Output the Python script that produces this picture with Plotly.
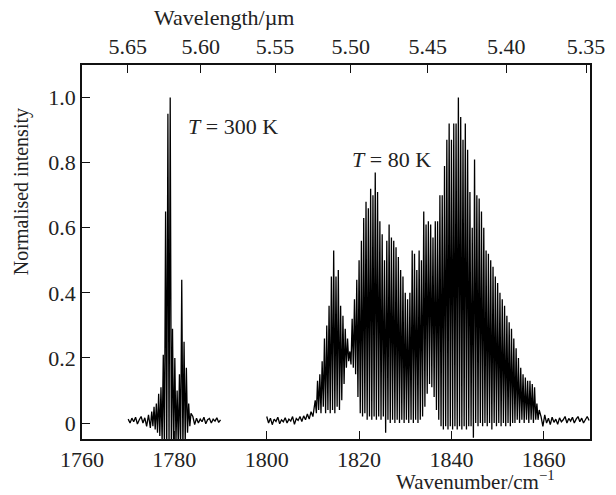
import plotly.graph_objects as go

# ---------------- data ----------------
# T = 300 K band
b300_pre_x = [1770.0, 1770.4, 1770.8, 1771.2, 1771.6, 1772.0, 1772.4, 1772.8, 1773.2, 1773.6, 1774.0, 1774.4, 1774.8]
b300_pre_y = [0.012, 0.0, 0.015, 0.004, 0.018, -0.003, 0.01, 0.02, 0.0, 0.016, -0.01, 0.025, -0.015]
b300_peak_x = [1775.1, 1775.6, 1776.1, 1776.6, 1777.1, 1777.6, 1778.1, 1778.6, 1779.1, 1779.6,
               1780.1, 1780.6, 1781.1, 1781.6, 1782.1, 1782.6, 1783.1, 1783.6]
b300_peak_y = [0.035, 0.05, 0.06, 0.09, 0.11, 0.21, 0.65, 0.95, 1.0, 0.29,
               0.20, 0.10, 0.15, 0.44, 0.25, 0.17, 0.06, 0.03]
b300_val_x = [1775.35, 1775.85, 1776.35, 1776.85, 1777.35, 1777.85, 1778.35, 1778.85, 1779.35,
              1779.85, 1780.35, 1780.85, 1781.35, 1781.85, 1782.35, 1782.85, 1783.35]
b300_val_y = [-0.01, -0.02, -0.03, -0.04, -0.06, -0.08, -0.08, -0.08, -0.08,
              -0.08, -0.06, -0.07, -0.08, -0.08, -0.06, -0.03, -0.01]
b300_post_x = [1784.0, 1784.4, 1784.8, 1785.2, 1785.6, 1786.0, 1786.4, 1786.8, 1787.2, 1787.6,
               1788.0, 1788.4, 1788.8, 1789.2, 1789.6, 1790.0]
b300_post_y = [0.02, -0.005, 0.015, 0.0, 0.012, 0.004, 0.018, -0.002, 0.01, 0.014,
               0.0, 0.012, 0.006, 0.016, 0.002, 0.01]

# T = 80 K band
b80_pre_x = [1800.0, 1800.4, 1800.8, 1801.2, 1801.6, 1802.0, 1802.4, 1802.8, 1803.2, 1803.6,
             1804.0, 1804.4, 1804.8, 1805.2, 1805.6, 1806.0, 1806.4, 1806.8, 1807.2, 1807.6,
             1808.0, 1808.4, 1808.8, 1809.2, 1809.6, 1810.0]
b80_pre_y = [0.02, 0.0, 0.015, -0.005, 0.012, 0.005, 0.018, -0.002, 0.01, 0.004,
             0.016, 0.0, 0.012, 0.006, 0.02, -0.004, 0.014, 0.008, 0.02, 0.005,
             0.022, 0.01, 0.028, 0.012, 0.035, 0.02]
b80_peak_x = [1810.5, 1811.0, 1811.5, 1812.0, 1812.5, 1813.0, 1813.5, 1814.0, 1814.5, 1815.0,
              1815.5, 1816.0, 1816.5, 1817.0, 1817.5, 1818.0, 1818.5, 1819.0, 1819.5, 1820.0,
              1820.5, 1821.0, 1821.5, 1822.0, 1822.5, 1823.0, 1823.5, 1824.0, 1824.5, 1825.0,
              1825.5, 1826.0, 1826.5, 1827.0, 1827.5, 1828.0, 1828.5, 1829.0, 1829.5, 1830.0,
              1830.5, 1831.0, 1831.5, 1832.0, 1832.5, 1833.0, 1833.5, 1834.0, 1834.5, 1835.0,
              1835.5, 1836.0, 1836.5, 1837.0, 1837.5, 1838.0, 1838.5, 1839.0, 1839.5, 1840.0,
              1840.5, 1841.0, 1841.5, 1842.0, 1842.5, 1843.0, 1843.5, 1844.0, 1844.5, 1845.0,
              1845.5, 1846.0, 1846.5, 1847.0, 1847.5, 1848.0, 1848.5, 1849.0, 1849.5, 1850.0,
              1850.5, 1851.0, 1851.5, 1852.0, 1852.5, 1853.0, 1853.5, 1854.0, 1854.5, 1855.0,
              1855.5, 1856.0, 1856.5, 1857.0, 1857.5, 1858.0, 1858.5, 1859.0]
b80_peak_y = [0.07, 0.13, 0.15, 0.19, 0.26, 0.30, 0.36, 0.45, 0.53, 0.45,
              0.47, 0.36, 0.33, 0.29, 0.26, 0.22, 0.32, 0.38, 0.44, 0.50,
              0.56, 0.63, 0.68, 0.66, 0.72, 0.70, 0.77, 0.71, 0.62, 0.58,
              0.50, 0.56, 0.61, 0.57, 0.56, 0.54, 0.51, 0.47, 0.45, 0.40,
              0.38, 0.40, 0.53, 0.52, 0.47, 0.53, 0.50, 0.65, 0.61, 0.62,
              0.61, 0.57, 0.62, 0.62, 0.70, 0.70, 0.79, 0.87, 0.92, 0.87,
              0.92, 0.92, 1.00, 0.94, 0.87, 0.92, 0.84, 0.71, 0.60, 0.81,
              0.70, 0.69, 0.65, 0.60, 0.53, 0.52, 0.50, 0.48, 0.45, 0.43,
              0.40, 0.38, 0.36, 0.33, 0.31, 0.29, 0.26, 0.23, 0.20, 0.17,
              0.15, 0.14, 0.13, 0.13, 0.12, 0.11, 0.06, 0.04]
b80_val_x = [1810.75, 1811.25, 1811.75, 1812.25, 1812.75, 1813.25, 1813.75, 1814.25, 1814.75, 1815.25,
             1815.75, 1816.25, 1816.75, 1817.25, 1817.75, 1818.25, 1818.75, 1819.25, 1819.75, 1820.25,
             1820.75, 1821.25, 1821.75, 1822.25, 1822.75, 1823.25, 1823.75, 1824.25, 1824.75, 1825.25,
             1825.75, 1826.25, 1826.75, 1827.25, 1827.75, 1828.25, 1828.75, 1829.25, 1829.75, 1830.25,
             1830.75, 1831.25, 1831.75, 1832.25, 1832.75, 1833.25, 1833.75, 1834.25, 1834.75, 1835.25,
             1835.75, 1836.25, 1836.75, 1837.25, 1837.75, 1838.25, 1838.75, 1839.25, 1839.75, 1840.25,
             1840.75, 1841.25, 1841.75, 1842.25, 1842.75, 1843.25, 1843.75, 1844.25, 1844.75, 1845.25,
             1845.75, 1846.25, 1846.75, 1847.25, 1847.75, 1848.25, 1848.75, 1849.25, 1849.75, 1850.25,
             1850.75, 1851.25, 1851.75, 1852.25, 1852.75, 1853.25, 1853.75, 1854.25, 1854.75, 1855.25,
             1855.75, 1856.25, 1856.75, 1857.25, 1857.75, 1858.25, 1858.75]
b80_val_y = [0.03, 0.04, 0.03, 0.05, 0.03, 0.04, 0.03, 0.04, 0.03, 0.05,
             0.04, 0.07, 0.12, 0.17, 0.19, 0.18, 0.17, 0.15, 0.08, 0.03,
             0.02, 0.03, 0.01, 0.02, 0.01, 0.02, 0.01, 0.02, 0.01, 0.02,
             -0.03, 0.01, 0.00, 0.01, 0.00, 0.01, 0.00, 0.01, 0.00, 0.01,
             0.00, 0.01, 0.00, 0.01, 0.00, 0.01, 0.02, 0.05, 0.09, 0.12,
             0.11, 0.08, 0.04, 0.01, -0.01, -0.02, -0.01, -0.02, -0.01, -0.02,
             -0.01, -0.02, -0.01, -0.02, -0.01, -0.02, -0.01, -0.01, -0.045, 0.00,
             -0.01, 0.00, -0.01, 0.00, -0.01, 0.00, -0.02, 0.00, -0.01, 0.00,
             -0.01, 0.00, -0.01, 0.00, -0.01, 0.00, 0.00, 0.01, 0.00, 0.01,
             0.00, 0.01, 0.00, 0.01, 0.00, 0.01, 0.01]
b80_post_x = [1859.4, 1859.8, 1860.2, 1860.6, 1861.0, 1861.4, 1861.8, 1862.2, 1862.6, 1863.0,
              1863.4, 1863.8, 1864.2, 1864.6, 1865.0, 1865.4, 1865.8, 1866.2, 1866.6, 1867.0,
              1867.4, 1867.8, 1868.2, 1868.6, 1869.0, 1869.4, 1869.8]
b80_post_y = [0.02, -0.01, 0.025, 0.0, 0.015, -0.005, 0.018, 0.002, 0.012, -0.004,
              0.016, 0.004, 0.01, 0.02, 0.0, 0.014, 0.006, 0.018, 0.0, 0.012,
              0.02, 0.004, 0.015, 0.0, 0.012, 0.02, 0.008]

wn_ticks = [1760, 1780, 1800, 1820, 1840, 1860]
y_ticks = [0, 0.2, 0.4, 0.6, 0.8, 1.0]
y_ticktext = ["0", "0.2", "0.4", "0.6", "0.8", "1.0"]
wl_ticks = [5.65, 5.60, 5.55, 5.50, 5.45, 5.40, 5.35]
wl_ticktext = ["5.65", "5.60", "5.55", "5.50", "5.45", "5.40", "5.35"]


def band(pre_x, pre_y, pk_x, pk_y, v_x, v_y, post_x, post_y):
    xs, ys = list(pre_x), list(pre_y)
    for i in range(len(pk_x)):
        xs.append(pk_x[i]); ys.append(pk_y[i])
        if i < len(v_x):
            xs.append(v_x[i]); ys.append(v_y[i])
    xs += post_x; ys += post_y
    return xs, ys


x300, y300 = band(b300_pre_x, b300_pre_y, b300_peak_x, b300_peak_y, b300_val_x, b300_val_y,
                  b300_post_x, b300_post_y)
x80, y80 = band(b80_pre_x, b80_pre_y, b80_peak_x, b80_peak_y, b80_val_x, b80_val_y,
                b80_post_x, b80_post_y)

FONT = "Liberation Serif, Times New Roman, serif"
TXT = "#222222"
FS = 22

fig = go.Figure()
fig.add_trace(go.Scatter(x=x300, y=y300, mode="lines", line=dict(color="black", width=1.3),
                         showlegend=False, hoverinfo="skip"))
fig.add_trace(go.Scatter(x=x80, y=y80, mode="lines", line=dict(color="black", width=1.3),
                         showlegend=False, hoverinfo="skip"))
# invisible trace to activate top axis
fig.add_trace(go.Scatter(x=[1760], y=[0], xaxis="x2", mode="markers",
                         marker=dict(opacity=0), showlegend=False, hoverinfo="skip"))

axis_common = dict(showline=True, linecolor="#111111", linewidth=1.6, ticks="inside",
                   ticklen=8, tickwidth=1.4, tickcolor="#111111", showgrid=False,
                   zeroline=False, tickfont=dict(family=FONT, size=FS, color=TXT))

fig.update_layout(
    width=616, height=495,
    margin=dict(l=82, r=26, t=65, b=56),
    paper_bgcolor="white", plot_bgcolor="white",
    xaxis=dict(range=[1760, 1870], tickvals=wn_ticks, **axis_common),
    xaxis2=dict(range=[1760, 1870], overlaying="x", side="top", anchor="y",
                tickvals=[10000.0 / w for w in wl_ticks], ticktext=wl_ticktext, **axis_common),
    yaxis=dict(range=[-0.049, 1.1], tickvals=y_ticks, ticktext=y_ticktext, mirror=True,
               **axis_common),
    font=dict(family=FONT, size=FS, color=TXT),
)

fig.add_annotation(text="Wavenumber/cm<sup>\u22121</sup>", xref="paper", yref="paper",
                   x=0.935, y=-0.111, xanchor="right", yanchor="middle", showarrow=False,
                   font=dict(family=FONT, size=21, color=TXT))
fig.add_annotation(text="Wavelength/\u00b5m", xref="paper", yref="paper",
                   x=0.28, y=1.127, xanchor="center", yanchor="middle", showarrow=False,
                   font=dict(family=FONT, size=FS, color=TXT))
fig.add_annotation(text="Normalised intensity", xref="paper", yref="paper",
                   x=-0.12, y=0.66, xanchor="center", yanchor="middle", textangle=-90,
                   showarrow=False, font=dict(family=FONT, size=20, color=TXT))
fig.add_annotation(text="<i>T</i> = 300 K", x=1782.5, y=0.91, xref="x", yref="y",
                   xanchor="left", yanchor="middle", showarrow=False,
                   font=dict(family=FONT, size=FS, color=TXT))
fig.add_annotation(text="<i>T</i> = 80 K", x=1818.0, y=0.81, xref="x", yref="y",
                   xanchor="left", yanchor="middle", showarrow=False,
                   font=dict(family=FONT, size=FS, color=TXT))

fig.write_html("out.html")
